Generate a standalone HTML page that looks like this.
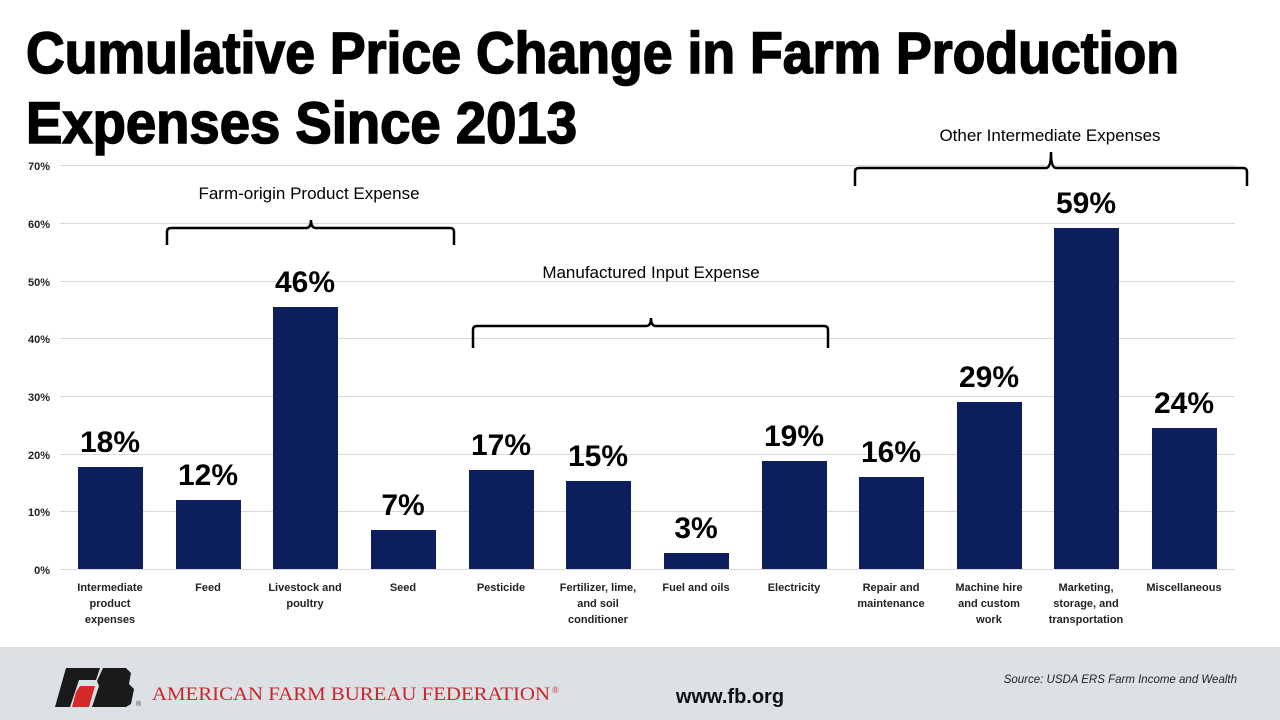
<!DOCTYPE html>
<html><head><meta charset="utf-8"><style>
html,body{margin:0;padding:0;background:#fff;}
svg{display:block;}
</style></head><body>
<svg width="1280" height="720" xmlns="http://www.w3.org/2000/svg" font-family="Liberation Sans, Arial, sans-serif">
<rect width="1280" height="720" fill="#fff"/>
<g stroke="#000" stroke-width="1.6">
<text x="26" y="73" font-size="58" font-weight="bold" textLength="1153" lengthAdjust="spacingAndGlyphs">Cumulative Price Change in Farm Production</text>
<text x="26" y="143" font-size="58" font-weight="bold" textLength="551" lengthAdjust="spacingAndGlyphs">Expenses Since 2013</text>
</g>
<g stroke="#d9d9d9" stroke-width="1">
<line x1="60" x2="1235" y1="165.5" y2="165.5"/>
<line x1="60" x2="1235" y1="223.5" y2="223.5"/>
<line x1="60" x2="1235" y1="281.5" y2="281.5"/>
<line x1="60" x2="1235" y1="338.5" y2="338.5"/>
<line x1="60" x2="1235" y1="396.5" y2="396.5"/>
<line x1="60" x2="1235" y1="454.5" y2="454.5"/>
<line x1="60" x2="1235" y1="511.5" y2="511.5"/>
<line x1="60" x2="1235" y1="569.5" y2="569.5"/>
</g>
<g font-size="11" font-weight="bold" text-anchor="end" fill="#222">
<text x="50" y="170">70%</text><text x="50" y="228">60%</text><text x="50" y="286">50%</text>
<text x="50" y="343">40%</text><text x="50" y="401">30%</text><text x="50" y="459">20%</text>
<text x="50" y="516">10%</text><text x="50" y="574">0%</text>
</g>
<g fill="#0c1f5c">
<rect x="78" y="467" width="65" height="102"/>
<rect x="176" y="500" width="65" height="69"/>
<rect x="273" y="307" width="65" height="262"/>
<rect x="371" y="530" width="65" height="39"/>
<rect x="469" y="470" width="65" height="99"/>
<rect x="566" y="481" width="65" height="88"/>
<rect x="664" y="553" width="65" height="16"/>
<rect x="762" y="461" width="65" height="108"/>
<rect x="859" y="477" width="65" height="92"/>
<rect x="957" y="402" width="65" height="167"/>
<rect x="1054" y="228" width="65" height="341"/>
<rect x="1152" y="428" width="65" height="141"/>
</g>
<g font-size="30" font-weight="bold" text-anchor="middle" fill="#000">
<text x="110" y="452">18%</text><text x="208" y="485">12%</text><text x="305" y="292">46%</text>
<text x="403" y="515">7%</text><text x="501" y="455">17%</text><text x="598" y="466">15%</text>
<text x="696" y="538">3%</text><text x="794" y="446">19%</text><text x="891" y="462">16%</text>
<text x="989" y="387">29%</text><text x="1086" y="213">59%</text><text x="1184" y="413">24%</text>
</g>
<g font-size="11" font-weight="bold" text-anchor="middle" fill="#222">
<text x="110" y="591">Intermediate</text><text x="110" y="607">product</text><text x="110" y="623">expenses</text>
<text x="208" y="591">Feed</text>
<text x="305" y="591">Livestock and</text><text x="305" y="607">poultry</text>
<text x="403" y="591">Seed</text>
<text x="501" y="591">Pesticide</text>
<text x="598" y="591">Fertilizer, lime,</text><text x="598" y="607">and soil</text><text x="598" y="623">conditioner</text>
<text x="696" y="591">Fuel and oils</text>
<text x="794" y="591">Electricity</text>
<text x="891" y="591">Repair and</text><text x="891" y="607">maintenance</text>
<text x="989" y="591">Machine hire</text><text x="989" y="607">and custom</text><text x="989" y="623">work</text>
<text x="1086" y="591">Marketing,</text><text x="1086" y="607">storage, and</text><text x="1086" y="623">transportation</text>
<text x="1184" y="591">Miscellaneous</text>
</g>
<g fill="none" stroke="#000" stroke-width="2.5">
<path d="M167 245 V232 Q167 228 171 228 H306 Q311 228 311 220 Q311 228 316 228 H450 Q454 228 454 232 V245"/>
<path d="M473 348 V330 Q473 326 477 326 H646 Q651 326 651 318 Q651 326 656 326 H824 Q828 326 828 330 V348"/>
<path d="M855 186 V172 Q855 168 859 168 H1046 Q1051 168 1051 152 Q1051 168 1056 168 H1243 Q1247 168 1247 172 V186"/>
</g>
<g font-size="17" text-anchor="middle" fill="#000">
<text x="309" y="199">Farm-origin Product Expense</text>
<text x="651" y="278">Manufactured Input Expense</text>
<text x="1050" y="141">Other Intermediate Expenses</text>
</g>
<rect x="0" y="647" width="1280" height="73" fill="#dde0e4"/>
<g>
<polygon points="66,668 100,668 96,680 79,680 70,707 55,707" fill="#1a1a1a"/>
<polygon points="80,686 95,686 89,707 72,707 76,692" fill="#d42a2a"/>
<polygon points="103,668 126,668 131,673 129,684 134,689 131,704 126,707 92,707 99,686 97,681" fill="#1a1a1a"/>
</g>
<text x="136" y="706" font-size="7" fill="#333">®</text>
<text x="152" y="700" font-family="Liberation Serif, serif" font-size="19" fill="#c8262b" textLength="398" lengthAdjust="spacingAndGlyphs">AMERICAN FARM BUREAU FEDERATION</text>
<text x="552" y="693" font-family="Liberation Serif, serif" font-size="9" fill="#c8262b">®</text>
<text x="730" y="703" font-size="20" font-weight="bold" text-anchor="middle" fill="#111">www.fb.org</text>
<text x="1237" y="683" font-size="11.5" font-style="italic" text-anchor="end" fill="#222">Source:  USDA  ERS Farm Income and Wealth</text>
</svg>
</body></html>
